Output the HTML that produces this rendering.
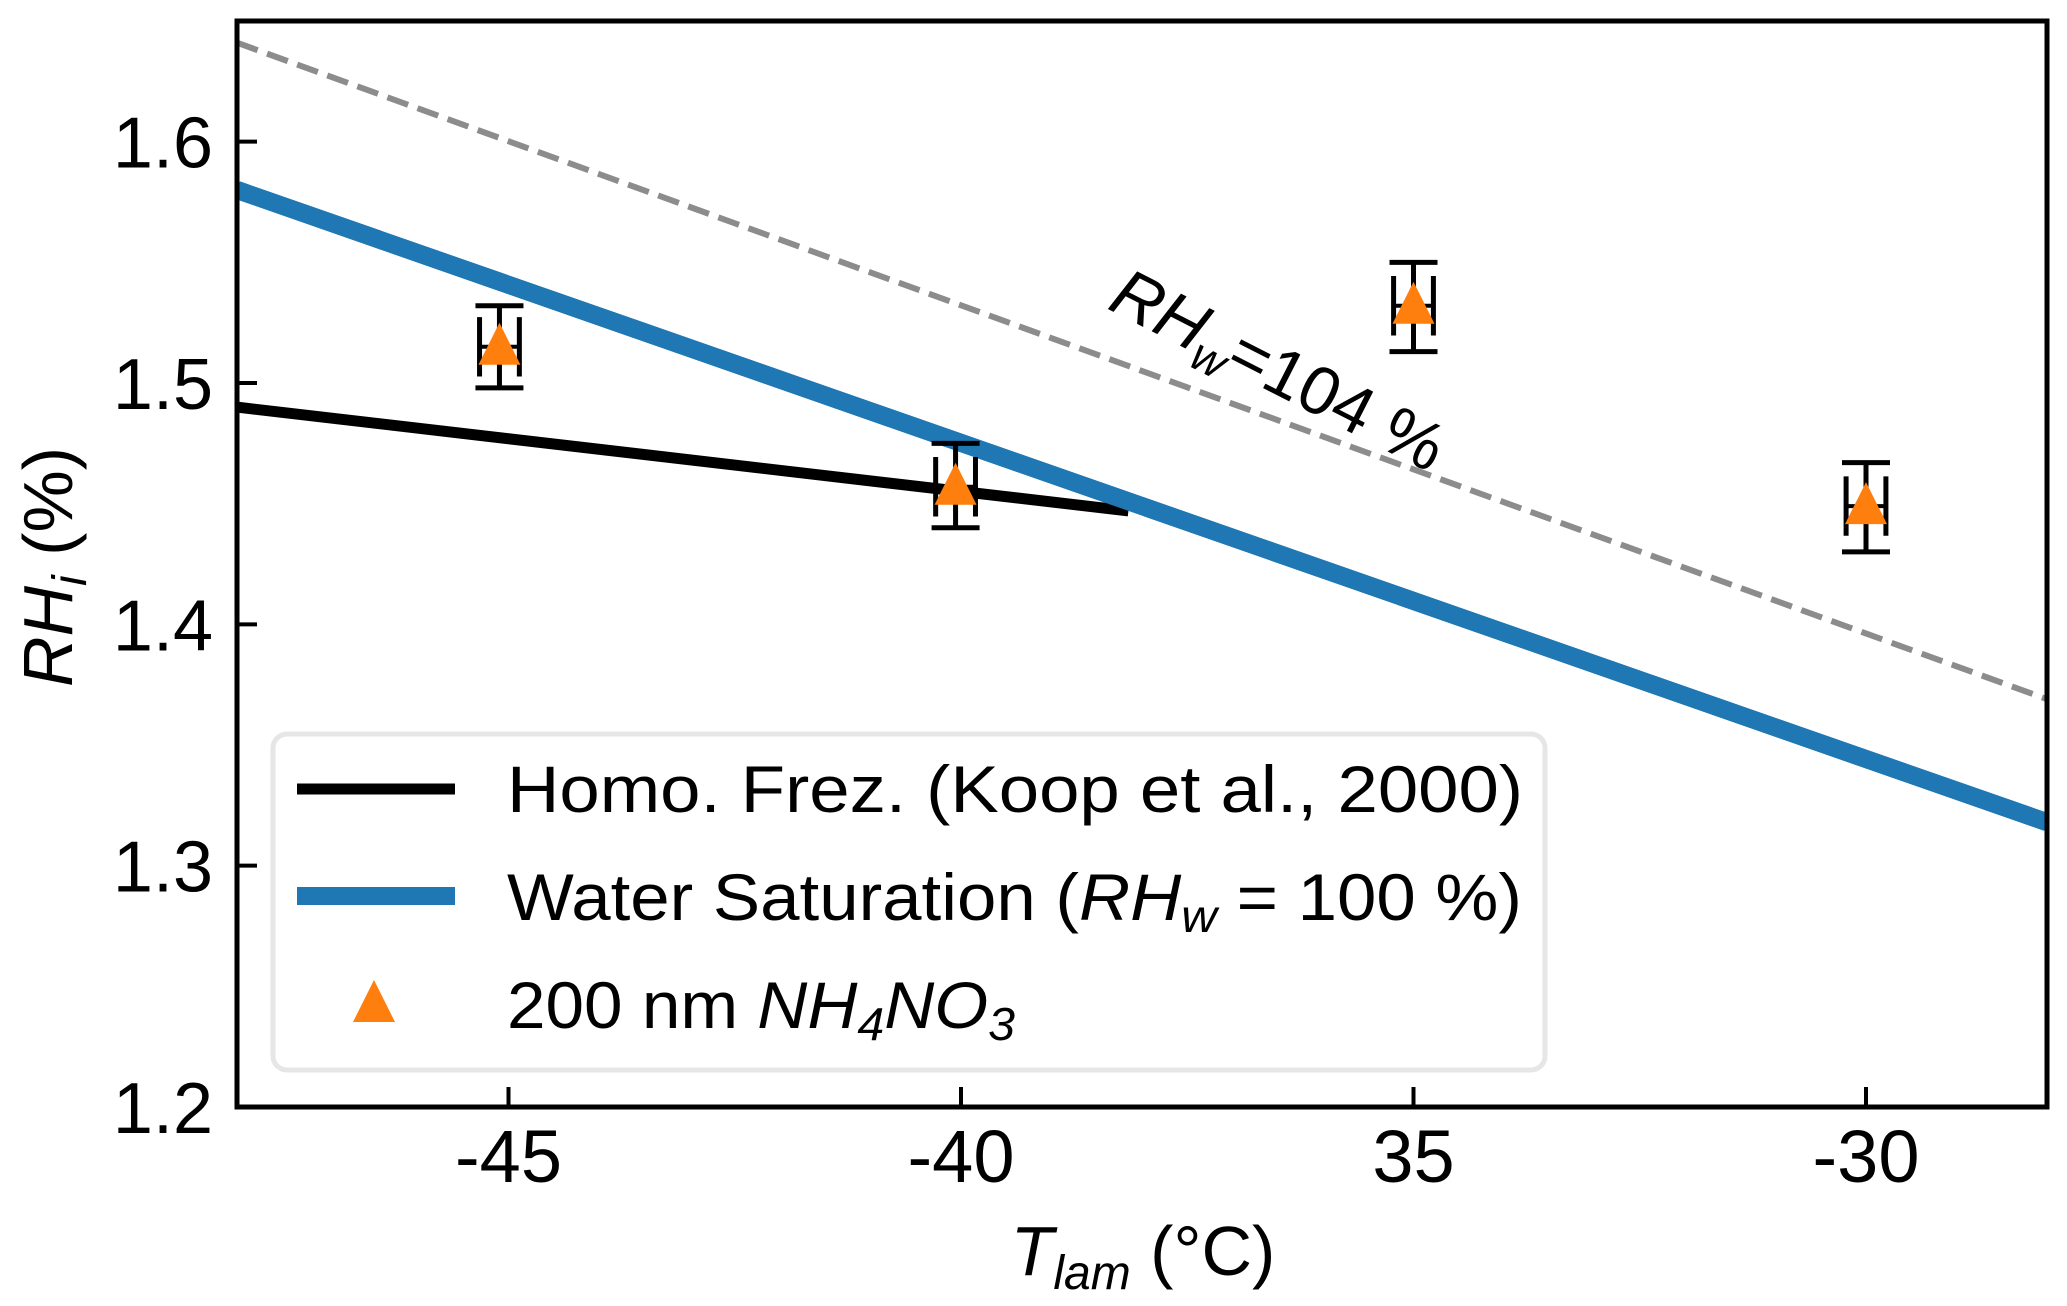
<!DOCTYPE html>
<html><head><meta charset="utf-8"><style>
html,body{margin:0;padding:0;background:#fff;}
svg{display:block;font-family:"Liberation Sans",Arial,sans-serif;}
</style></head><body>
<svg id="chart" width="2067" height="1306" viewBox="0 0 2067 1306" xmlns="http://www.w3.org/2000/svg">
<g id="plot"></g>
</svg>
<script>
const xTicks = [-45, -40, -35, -30];
const xTickLabels = ["-45", "-40", "35", "-30"];
const yTicks = [1.2, 1.3, 1.4, 1.5, 1.6];
const yTickLabels = ["1.2", "1.3", "1.4", "1.5", "1.6"];
const homoX = [-48, -38.15];
const homoY = [1.490, 1.447];
const waterX = [-48, -28];
const waterY = [1.580, 1.318];
const rh104X = [-48, -28];
const rh104Y = [1.641, 1.369];
const ptX = [-45.1, -40.06, -35, -30];
const ptY = [1.515, 1.457, 1.532, 1.449];
const ptErrLo = [1.498, 1.440, 1.513, 1.430];
const ptErrHi = [1.532, 1.475, 1.550, 1.467];
const ptXErr = [0.22, 0.22, 0.22, 0.22];
const ptInnerErr = [0.009, 0.009, 0.009, 0.009];

const L=237, R=2047, T=21, B=1107;
const xMin=-48, xMax=-28, yMin=1.2, yMax=1.65;
const sx = v => L + (v - xMin) / (xMax - xMin) * (R - L);
const sy = v => B - (v - yMin) / (yMax - yMin) * (B - T);
const NS="http://www.w3.org/2000/svg";
const g=document.getElementById('plot');
function mk(tag, attrs, parent){const e=document.createElementNS(NS,tag);for(const k in attrs)e.setAttribute(k,attrs[k]);(parent||g).appendChild(e);return e;}

const defs=mk('defs',{});
const cp=mk('clipPath',{id:'clip'},defs);
mk('rect',{x:L,y:T,width:R-L,height:B-T},cp);
const data=mk('g',{'clip-path':'url(#clip)'});



let ln=mk('line',{x1:sx(rh104X[0]),y1:sy(rh104Y[0]),x2:sx(rh104X[1]),y2:sy(rh104Y[1]),stroke:'#8c8c8c','stroke-width':6,'stroke-dasharray':'22 10'},data);


ln=mk('line',{x1:sx(waterX[0]),y1:sy(waterY[0]),x2:sx(waterX[1]),y2:sy(waterY[1]),stroke:'#1f77b4','stroke-width':18},data);


ln=mk('line',{x1:sx(homoX[0]),y1:sy(homoY[0]),x2:sx(homoX[1]),y2:sy(homoY[1]),stroke:'#000','stroke-width':11},data);


// redraw water over homo crossing region like reference
ln=mk('line',{x1:sx(waterX[0]),y1:sy(waterY[0]),x2:sx(waterX[1]),y2:sy(waterY[1]),stroke:'#1f77b4','stroke-width':18},data);



for(let i=0;i<ptX.length;i++){
  const pg=mk('g',{},data);
  
  
  const cx=sx(ptX[i]), lo=sy(ptErrLo[i]), hi=sy(ptErrHi[i]);
  mk('line',{x1:cx,y1:lo,x2:cx,y2:hi,stroke:'#000','stroke-width':5},pg);
  mk('line',{x1:cx-24,y1:lo,x2:cx+24,y2:lo,stroke:'#000','stroke-width':5},pg);
  mk('line',{x1:cx-24,y1:hi,x2:cx+24,y2:hi,stroke:'#000','stroke-width':5},pg);
  const xl=sx(ptX[i]-ptXErr[i]), xr=sx(ptX[i]+ptXErr[i]);
  const iy1=sy(ptY[i]+ptInnerErr[i]), iy2=sy(ptY[i]-ptInnerErr[i]);
  mk('line',{x1:xl,y1:sy(ptY[i]),x2:xr,y2:sy(ptY[i]),stroke:'#000','stroke-width':4},pg);
  mk('line',{x1:xl,y1:iy1-8,x2:xl,y2:iy2+8,stroke:'#000','stroke-width':5},pg);
  mk('line',{x1:xr,y1:iy1-8,x2:xr,y2:iy2+8,stroke:'#000','stroke-width':5},pg);
  const cy=sy(ptY[i]);
  mk('polygon',{points:`${cx},${cy-24} ${cx-21},${cy+18} ${cx+21},${cy+18}`,fill:'#ff7f0e'},pg);
}

const ann=mk('text',{x:1106,y:308,'font-size':68,transform:'rotate(27 1106 308)',fill:'#000'});


ann.innerHTML='<tspan font-style="italic">RH</tspan><tspan font-style="italic" font-size="46" dy="14">w</tspan><tspan dy="-14">=104 %</tspan>';

const lg=mk('g',{});


mk('rect',{x:273,y:734,width:1272,height:336,rx:14,fill:'#fff',stroke:'#e6e6e6','stroke-width':5},lg);
const e1=mk('g',{},lg);


mk('line',{x1:297,y1:789,x2:455,y2:789,stroke:'#000','stroke-width':11},e1);
mk('text',{x:507,y:812,'font-size':66,textLength:1016,lengthAdjust:'spacingAndGlyphs'},e1).textContent='Homo. Frez. (Koop et al., 2000)';
const e2=mk('g',{},lg);


mk('line',{x1:297,y1:896,x2:455,y2:896,stroke:'#1f77b4','stroke-width':18},e2);
const t2=mk('text',{x:507,y:920,'font-size':66,textLength:1015,lengthAdjust:'spacingAndGlyphs'},e2);
t2.innerHTML='Water Saturation (<tspan font-style="italic">RH</tspan><tspan font-style="italic" font-size="46" dy="12">w</tspan><tspan dy="-12"> = 100 %)</tspan>';
const e3=mk('g',{},lg);


mk('polygon',{points:'374,980 353,1022 395,1022',fill:'#ff7f0e'},e3);
const t3=mk('text',{x:507,y:1028,'font-size':66,textLength:508,lengthAdjust:'spacingAndGlyphs'},e3);
t3.innerHTML='200 nm <tspan font-style="italic">NH</tspan><tspan font-style="italic" font-size="46" dy="12">4</tspan><tspan font-style="italic" dy="-12">NO</tspan><tspan font-style="italic" font-size="46" dy="12">3</tspan>';

const fr=mk('rect',{x:L,y:T,width:R-L,height:B-T,fill:'none',stroke:'#000','stroke-width':5});



for(let i=0;i<xTicks.length;i++){
  const x=sx(xTicks[i]);
  const tk=mk('line',{x1:x,y1:B,x2:x,y2:B-20,stroke:'#000','stroke-width':4});
  
  
  const tl=mk('text',{x:x,y:1182,'font-size':74,'text-anchor':'middle'});
  
  
  tl.textContent=xTickLabels[i];
}
for(let i=0;i<yTicks.length;i++){
  const y=sy(yTicks[i]);
  const tk=mk('line',{x1:L,y1:y,x2:L+20,y2:y,stroke:'#000','stroke-width':4});
  
  
  const tl=mk('text',{x:213,y:y+26,'font-size':72,'text-anchor':'end'});
  
  
  tl.textContent=yTickLabels[i];
}
const xt=mk('text',{x:1143,y:1275,'font-size':70,'text-anchor':'middle'});


xt.innerHTML='<tspan font-style="italic">T</tspan><tspan font-style="italic" font-size="48" dy="14">lam</tspan><tspan dy="-14"> (°C)</tspan>';
const yt=mk('text',{x:0,y:0,'font-size':70,'text-anchor':'middle',transform:'translate(72 567) rotate(-90)'});


yt.innerHTML='<tspan font-style="italic">RH</tspan><tspan font-style="italic" font-size="48" dy="14">i</tspan><tspan dy="-14"> (%)</tspan>';
</script>
</body></html>
